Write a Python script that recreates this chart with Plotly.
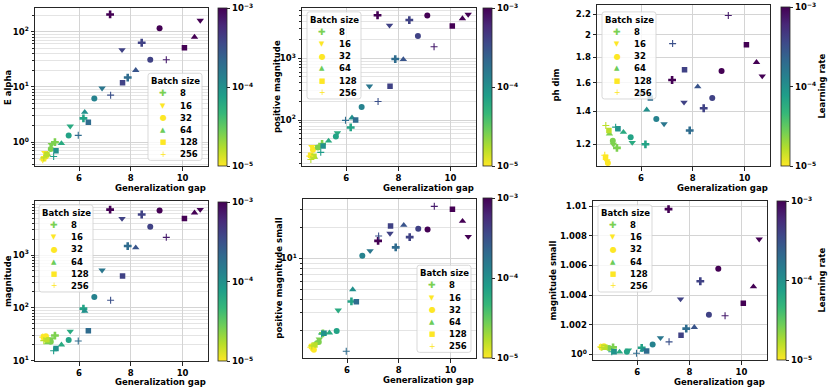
import numpy as np
import plotly.graph_objects as go

W, H = 830, 392

batch_sizes = ["8", "16", "32", "64", "128", "256"]

# generalization gap (x) per batch size, ordered by increasing learning rate
gen_gap = {
    "8":   [5.07, 6.17, 7.88, 8.42, 7.20],
    "16":  [4.68, 4.93, 5.66, 6.89, 7.66, 10.68],
    "32":  [4.72, 4.91, 5.60, 6.59, 8.75, 9.11],
    "64":  [4.78, 5.32, 6.22, 8.19, 10.46],
    "128": [4.63, 4.76, 5.11, 6.36, 7.68, 10.07],
    "256": [4.60, 4.64, 5.02, 5.97, 7.22, 9.37],
}
learning_rate = {
    "8":   [2.5e-5, 7e-5, 2e-4, 4e-4, 1e-3],
    "16":  [1e-5, 2.5e-5, 6e-5, 1.6e-4, 4e-4, 1e-3],
    "32":  [1e-5, 2.5e-5, 7e-5, 1.3e-4, 4e-4, 1e-3],
    "64":  [2.5e-5, 6e-5, 1e-4, 3e-4, 1e-3],
    "128": [1e-5, 1.6e-5, 1e-4, 2e-4, 4e-4, 1e-3],
    "256": [1e-5, 1.6e-5, 8e-5, 2e-4, 3.2e-4, 7e-4],
}
e_alpha = {
    "8":   [1.0, 2.7, 14.8, 63, 205],
    "16":  [0.65, 0.9, 1.95, 9.5, 47, 160],
    "32":  [0.55, 0.75, 1.32, 6.2, 31, 115],
    "64":  [0.6, 0.95, 3.5, 20, 80],
    "128": [0.5, 0.6, 0.70, 2.3, 11.9, 51],
    "256": [0.48, 0.52, 0.55, 1.33, 7.1, 31],
}
positive_magnitude = {
    "8":   [41, 76, 975, 4180, 5000],
    "16":  [37, 37, 62, 355, 3430, 5150],
    "32":  [33, 36, 54, 163, 2310, 4960],
    "64":  [25, 46, 109, 960, 4430],
    "128": [27, 26, 38, 100, 355, 3340],
    "256": [26, 23, 30, 99, 200, 1540],
}
ph_dim = {
    "8":   [1.18, 1.20, 1.28, 1.42, 1.62],
    "16":  [1.11, 1.20, 1.21, 1.32, 1.46, 1.65],
    "32":  [1.10, 1.22, 1.24, 1.35, 1.49, 1.69],
    "64":  [1.26, 1.27, 1.41, 1.57, 1.76],
    "128": [1.13, 1.28, 1.29, 1.49, 1.70, 1.91],
    "256": [1.14, 1.31, 1.30, 1.52, 1.92, 2.19],
}
magnitude = {
    "8":   [30, 97, 1480, 5850, 7240],
    "16":  [29, 26, 36, 516, 4900, 7240],
    "32":  [29, 23, 24.6, 161, 3440, 6930],
    "64":  [22, 20, 87, 1380, 6300],
    "128": [28, 25, 17, 37, 400, 4900],
    "256": [28, 24, 15.5, 23.6, 140, 2160],
}
positive_magnitude_small = {
    "8":   [1.88, 3.83, 12.8, 16.1, 14.8],
    "16":  [1.35, 1.65, 3.15, 11.85, 17.5, 16.3],
    "32":  [1.3, 1.55, 1.98, 10.6, 19.4, 19.1],
    "64":  [1.5, 1.9, 5.0, 21, 23],
    "128": [1.4, 1.45, 1.88, 3.8, 20.6, 30],
    "256": [1.38, 1.42, 1.85, 1.26, 16.5, 32],
}
magnitude_small = {
    "8":   [1.00047, 1.00044, 1.00173, 1.00493, 1.00982],
    "16":  [1.00052, 1.00045, 1.00029, 1.00111, 1.00373, 1.00778],
    "32":  [1.00055, 1.00043, 1.00018, 1.00067, 1.00267, 1.00578],
    "64":  [1.00042, 1.00016, 1.00030, 1.00182, 1.00456],
    "128": [1.00050, 1.00048, 1.00018, 1.00022, 1.00129, 1.00344],
    "256": [1.00050, 1.00046, 1.00017, 1.00007, 1.00084, 1.00260],
}

x_ticks = [6, 8, 10]
lr_tick_exp = [-5, -4, -3]
lr_tick_text = ["10<sup>\u22125</sup>", "10<sup>\u22124</sup>", "10<sup>\u22123</sup>"]

symbols = {"8": "cross", "16": "triangle-down", "32": "circle",
           "64": "triangle-up", "128": "square", "256": "cross-thin"}
marker_size = {"8": 6.5, "16": 6.5, "32": 6, "64": 6.5, "128": 5.5, "256": 5}
legend_glyph = {"8": "\u271a", "16": "\u25bc", "32": "\u25cf",
                "64": "\u25b2", "128": "\u25a0", "256": "+"}
legend_color = {"8": "#7ad151", "16": "#fde725", "32": "#fde725",
                "64": "#6ccd5a", "128": "#fde725", "256": "#fde725"}

def minor_vals(lo, hi):
    out = []
    for e in range(int(np.floor(lo)) - 1, int(np.ceil(hi)) + 1):
        for m in range(2, 10):
            v = m * 10.0 ** e
            if 10 ** lo <= v <= 10 ** hi:
                out.append(v)
    return out

def rounded_rect(x0, y0, x1, y1, r=2.5):
    # pixel box -> paper path with rounded corners
    def X(v):
        return v / W
    def Y(v):
        return 1 - v / H
    pts = [
        f"M{X(x0 + r)},{Y(y0)}", f"L{X(x1 - r)},{Y(y0)}", f"Q{X(x1)},{Y(y0)} {X(x1)},{Y(y0 + r)}",
        f"L{X(x1)},{Y(y1 - r)}", f"Q{X(x1)},{Y(y1)} {X(x1 - r)},{Y(y1)}",
        f"L{X(x0 + r)},{Y(y1)}", f"Q{X(x0)},{Y(y1)} {X(x0)},{Y(y1 - r)}",
        f"L{X(x0)},{Y(y0 + r)}", f"Q{X(x0)},{Y(y0)} {X(x0 + r)},{Y(y0)}", "Z",
    ]
    return " ".join(pts)

panels = [
    dict(data=e_alpha, ylabel="E alpha", yr=[-0.436, 2.43],
         tv=[1, 10, 100], tt=["10<sup>0</sup>", "10<sup>1</sup>", "10<sup>2</sup>"], minor=True,
         l=35, r=208, t=8, b=168, cb=(218, 8, 168), ylx=8, xly=189.5, leg=(148, 74)),
    dict(data=positive_magnitude, ylabel="positive magnitude", yr=[1.251, 3.818],
         tv=[100, 1000], tt=["10<sup>2</sup>", "10<sup>3</sup>"], minor=True,
         l=302, r=476, t=8, b=168, cb=(483, 8, 168), ylx=277, xly=189.5, leg=(307, 12)),
    dict(data=ph_dim, ylabel="ph dim", yr=[0.0346, 0.3617],
         tv=[1.2, 1.4, 1.6, 1.8, 2.0, 2.2], tt=["1.2", "1.4", "1.6", "1.8", "2", "2.2"], minor=False,
         l=597, r=770, t=5, b=168, cb=(781, 7, 168), ylx=556, xly=189.5, leg=(602, 12)),
    dict(data=magnitude, ylabel="magnitude", yr=[0.99, 4.024],
         tv=[10, 100, 1000], tt=["10<sup>1</sup>", "10<sup>2</sup>", "10<sup>3</sup>"], minor=True,
         l=35, r=208, t=203, b=365, cb=(218, 204, 365), ylx=8, xly=386, leg=(39, 207)),
    dict(data=positive_magnitude_small, ylabel="positive magnitude small", yr=[0.032, 1.577],
         tv=[10], tt=["10<sup>1</sup>"], minor=True,
         l=303, r=476, t=201, b=362, cb=(483, 200, 362), ylx=279, xly=383.5, leg=(417, 268)),
    dict(data=magnitude_small, ylabel="magnitude small", yr=[-0.000174, 0.004484],
         tv=[1.0, 1.002, 1.004, 1.006, 1.008, 1.01],
         tt=["10<sup>0</sup>", "1.002", "1.004", "1.006", "1.008", "1.01"], minor=False,
         l=593, r=767, t=203, b=364, cb=(777, 203, 364), ylx=553, xly=386, leg=(598, 207)),
]

FONT = "DejaVu Sans"
FS = 8.5
AXC = "#262626"
GRID = "#d4d4d4"
GRID_MINOR = "#e4e4e4"

fig = go.Figure()
layout = dict(width=W, height=H, margin=dict(l=0, r=0, t=0, b=0),
              paper_bgcolor="white", plot_bgcolor="white", showlegend=False,
              font=dict(family=FONT, size=FS, color="black", weight="bold"))
annotations = []
shapes = []

for k, p in enumerate(panels, start=1):
    sfx = "" if k == 1 else str(k)
    ca = "coloraxis" + sfx
    for bs in batch_sizes:
        clog = list(np.log10(learning_rate[bs]))
        if bs == "256":
            marker = dict(symbol=symbols[bs], size=marker_size[bs], color=clog, coloraxis=ca,
                          line=dict(width=1.1, color=clog, coloraxis=ca))
        else:
            marker = dict(symbol=symbols[bs], size=marker_size[bs], color=clog, coloraxis=ca,
                          line=dict(width=0))
        fig.add_trace(go.Scatter(x=gen_gap[bs], y=p["data"][bs], mode="markers",
                                 name=bs, marker=marker, xaxis="x" + sfx, yaxis="y" + sfx,
                                 showlegend=False))

    lo, hi = p["yr"]
    keep = [i for i, v in enumerate(p["tv"]) if lo <= np.log10(v) <= hi]
    yaxis = dict(domain=[1 - p["b"] / H, 1 - p["t"] / H], type="log", range=p["yr"],
                 anchor="x" + sfx, tickmode="array",
                 tickvals=[p["tv"][i] for i in keep], ticktext=[p["tt"][i] for i in keep],
                 showgrid=True, gridcolor=GRID, gridwidth=0.8,
                 showline=True, mirror=True, linecolor=AXC, linewidth=0.9,
                 ticks="outside", ticklen=3.5, tickwidth=0.8, tickcolor=AXC,
                 zeroline=False, tickfont=dict(size=FS))
    if p["minor"]:
        yaxis["minor"] = dict(tickmode="array", tickvals=minor_vals(*p["yr"]),
                              showgrid=True, gridcolor=GRID_MINOR, gridwidth=0.7,
                              ticks="outside", ticklen=2, tickcolor=AXC, tickwidth=0.6)
    layout["yaxis" + sfx] = yaxis
    layout["xaxis" + sfx] = dict(domain=[p["l"] / W, p["r"] / W], range=[4.3, 10.98],
                                 anchor="y" + sfx, tickmode="array", tickvals=x_ticks,
                                 showgrid=True, gridcolor=GRID, gridwidth=0.8,
                                 showline=True, mirror=True, linecolor=AXC, linewidth=0.9,
                                 ticks="outside", ticklen=3.5, tickwidth=0.8, tickcolor=AXC,
                                 zeroline=False, tickfont=dict(size=FS))
    cbl, cbt, cbb = p["cb"]
    layout[ca] = dict(cmin=-5, cmax=-3, colorscale="Viridis", reversescale=True,
                      colorbar=dict(x=cbl / W, xanchor="left", xpad=0, ypad=0,
                                    y=1 - (cbt + cbb) / 2 / H, yanchor="middle",
                                    len=(cbb - cbt) / H, lenmode="fraction",
                                    thickness=9, thicknessmode="pixels",
                                    outlinewidth=0.8, outlinecolor=AXC,
                                    tickmode="array", tickvals=lr_tick_exp, ticktext=lr_tick_text,
                                    ticks="outside", ticklen=3.5, tickwidth=0.8, tickcolor=AXC,
                                    tickfont=dict(size=FS)))

    # axis titles
    annotations.append(dict(text=p["ylabel"], x=p["ylx"] / W, y=1 - (p["t"] + p["b"]) / 2 / H,
                            xref="paper", yref="paper", textangle=-90, showarrow=False,
                            xanchor="center", yanchor="middle", font=dict(size=FS)))
    annotations.append(dict(text="Generalization gap", x=p["r"] / W, y=1 - p["xly"] / H,
                            xref="paper", yref="paper", showarrow=False,
                            xanchor="right", yanchor="middle", font=dict(size=FS)))
    # legend box
    lx, ly = p["leg"]
    shapes.append(dict(type="path", xref="paper", yref="paper", layer="above",
                       path=rounded_rect(lx, ly, lx + 54, ly + 88),
                       fillcolor="rgba(255,255,255,0.8)", line=dict(color="#cfcfcf", width=0.8)))
    annotations.append(dict(text="Batch size", x=(lx + 27) / W, y=1 - (ly + 8) / H,
                            xref="paper", yref="paper", showarrow=False,
                            xanchor="center", yanchor="middle", font=dict(size=FS)))
    for i, bs in enumerate(batch_sizes):
        ry = ly + 20.3 + 12.3 * i
        gsize = {"8": 9, "16": 7, "32": 8, "64": 7, "128": 7, "256": 8}[bs]
        annotations.append(dict(text=legend_glyph[bs], x=(lx + 15) / W, y=1 - ry / H,
                                xref="paper", yref="paper", showarrow=False,
                                xanchor="center", yanchor="middle",
                                font=dict(size=gsize, color=legend_color[bs],
                                          weight="normal")))
        annotations.append(dict(text=bs, x=(lx + 30) / W, y=1 - ry / H,
                                xref="paper", yref="paper", showarrow=False,
                                xanchor="left", yanchor="middle", font=dict(size=FS)))

for yc in [(7 + 168) / 2, (203 + 364) / 2]:
    annotations.append(dict(text="Learning rate", x=822 / W, y=1 - yc / H,
                            xref="paper", yref="paper", textangle=-90, showarrow=False,
                            xanchor="center", yanchor="middle", font=dict(size=FS)))

layout["annotations"] = annotations
layout["shapes"] = shapes
fig.update_layout(**layout)
fig.write_html("out.html", config={"displayModeBar": False},
               post_script="document.body.style.margin='0';")
